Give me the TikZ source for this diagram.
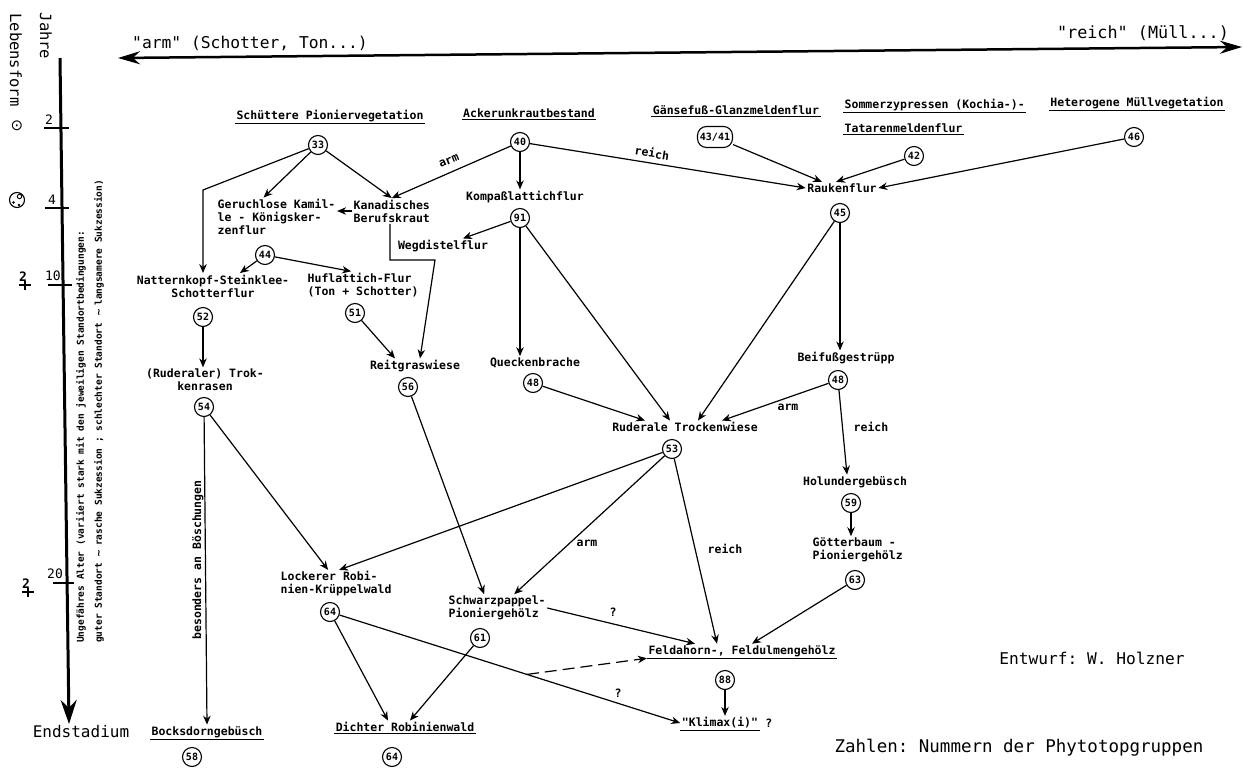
\documentclass[tikz,border=0pt]{standalone}
\usepackage{fontspec}
\setmainfont{DejaVu Sans Mono}
\setmonofont{DejaVu Sans Mono}
\renewcommand{\familydefault}{\ttdefault}
\newfontfamily\symfont{DejaVu Sans}
\usetikzlibrary{arrows.meta}
\newcommand{\tf}{\ttfamily\bfseries\fontsize{11.5}{13}\selectfont}
\newcommand{\nf}{\ttfamily\bfseries\fontsize{10}{11}\selectfont}
\newcommand{\jupiter}[2]{%
  \node[font=\ttfamily\bfseries\fontsize{13}{14}\selectfont, inner sep=0pt] (#2) at #1 {2};
  \draw[line width=1.3pt] ([xshift=2pt,yshift=1pt]#2.south) -- ([xshift=2pt,yshift=-8pt]#2.south);
  \draw[line width=1.3pt] ([xshift=-4pt,yshift=-3pt]#2.south) -- ([xshift=8pt,yshift=-3pt]#2.south);
}
\begin{document}
\begin{tikzpicture}[x=1pt,y=-1pt,
  lbl/.style={font=\tf, inner sep=1.5pt, align=center},
  lbll/.style={font=\tf, inner sep=1.5pt, align=left},
  elbl/.style={font=\tf, inner sep=1pt},
  num/.style={circle, draw, line width=1.1pt, inner sep=0pt, minimum size=19pt, font=\nf},
  arr/.style={line width=1.2pt, -{Stealth[length=9pt,width=7.5pt]}},
  ulline/.style={line width=1.1pt},
  tick/.style={line width=1.4pt},
]
\useasboundingbox (0,0) rectangle (1243,769);
\fill[white] (0,0) rectangle (1243,769);

% ---------- axes ----------
\coordinate (tl) at (118,58);
\coordinate (tr) at (1242,47);
\draw[line width=2.5pt, {Stealth[length=22pt,width=13pt]}-{Stealth[length=22pt,width=13pt]}] (tl) -- (tr);
\node[font=\ttfamily\fontsize{16.3}{18}\selectfont, inner sep=0pt] (armtop) at (250,43) {"arm" (Schotter, Ton...)};
\node[font=\ttfamily\fontsize{16.8}{18}\selectfont, inner sep=0pt] (reichtop) at (1143,33) {"reich" (Müll...)};

\coordinate (at) at (60,58);
\coordinate (ab) at (69,724);
\draw[line width=3pt, -{Stealth[length=24pt,width=16pt]}] (at) -- (ab);
\draw[tick] (44,128) -- (69,128);
\draw[tick] (45,208) -- (69,208);
\draw[tick] (48,285) -- (72,285);
\draw[tick] (53,583) -- (74,583);
\node[font=\ttfamily\fontsize{13}{14}\selectfont, inner sep=0pt] (t2) at (49,120) {2};
\node[font=\ttfamily\fontsize{13}{14}\selectfont, inner sep=0pt] (t4) at (52,200) {4};
\node[font=\ttfamily\fontsize{13}{14}\selectfont, inner sep=0pt] (t10) at (53,276) {10};
\node[font=\ttfamily\fontsize{13}{14}\selectfont, inner sep=0pt] (t20) at (55,574) {20};

\node[font=\ttfamily\fontsize{15.5}{17}\selectfont, rotate=-90, inner sep=0pt] (jahre) at (46,36) {Jahre};
\node[font=\ttfamily\fontsize{15.5}{17}\selectfont, rotate=-90, inner sep=0pt] (lebens) at (16,60) {Lebensform};
\node[font=\symfont\fontsize{15}{16}\selectfont, inner sep=0pt] (sym1) at (17,126) {⊙};
\draw[line width=1.1pt] (17,200) circle (7.5);
\draw[line width=0.9pt] (19.5,196.5) circle (2.2);
\fill (13.5,202.5) circle (1.4);
\fill (19,205) circle (1.4);
\jupiter{(23,277)}{sym3}
\jupiter{(26,584)}{sym4}

\node[font=\ttfamily\bfseries\fontsize{9.5}{11}\selectfont, rotate=90, anchor=west, inner sep=0pt] (col1) at (81,643) {Ungefähres Alter (variiert stark mit den jeweiligen Standortbedingungen:};
\node[font=\ttfamily\bfseries\fontsize{9.5}{11}\selectfont, rotate=90, anchor=west, inner sep=0pt] (col2) at (99,643) {guter Standort \symfont∼\ \ttfamily rasche Sukzession ; schlechter Standort \symfont∼\ \ttfamily langsamere Sukzession)};

\node[font=\ttfamily\fontsize{16}{18}\selectfont, inner sep=0pt] (endst) at (81,732) {Endstadium};

% ---------- headers ----------
\node[lbl] (schuett) at (330,116) {Schüttere Pioniervegetation};
\node[lbl] (acker) at (529,113) {Ackerunkrautbestand};
\node[lbl] (gaense) at (736,110) {Gänsefuß-Glanzmeldenflur};
\node[lbl, anchor=west] (sommer) at (843,105) {Sommerzypressen (Kochia-)-};
\node[lbl, anchor=west] (tatar) at (843,128) {Tatarenmeldenflur};
\node[lbl] (hetero) at (1137,103) {Heterogene Müllvegetation};
\foreach \n in {schuett,acker,gaense,sommer,tatar,hetero}
  \draw[ulline] (\n.south west) -- (\n.south east);

% ---------- numbered nodes ----------
\node[num] (n33) at (318,145) {33};
\node[num] (n40) at (520,142) {40};
\node[num, rectangle, rounded corners=9pt, inner sep=2pt, minimum width=35pt, minimum height=21pt] (n4341) at (715,137) {43/41};
\node[num] (n42) at (914,156) {42};
\node[num] (n46) at (1134,137) {46};
\node[num] (n91) at (520,218) {91};
\node[num] (n45) at (840,213) {45};
\node[num] (n44) at (265,255) {44};
\node[num] (n52) at (203,317) {52};
\node[num] (n51) at (355,313) {51};
\node[num] (n54) at (204,407) {54};
\node[num] (n56) at (408,387) {56};
\node[num] (n48a) at (533,383) {48};
\node[num] (n48b) at (838,380) {48};
\node[num] (n53) at (672,449) {53};
\node[num] (n59) at (851,503) {59};
\node[num] (n63) at (855,580) {63};
\node[num] (n64a) at (330,612) {64};
\node[num] (n61) at (480,638) {61};
\node[num] (n88) at (725,680) {88};
\node[num] (n58) at (192,757) {58};
\node[num] (n64b) at (392,757) {64};

% ---------- text nodes ----------
\node[lbll, anchor=west] (kan) at (352,211) {Kanadisches\\Berufskraut};
\node[lbll, anchor=west] (geruch) at (216,217) {Geruchlose Kamil-\\le - Königsker-\\zenflur};
\node[lbl] (kompass) at (525,197) {Kompaßlattichflur};
\node[lbl] (rauken) at (842,188) {Raukenflur};
\node[lbl] (wegd) at (443,246) {Wegdistelflur};
\node[lbl] (natter) at (213,286) {Natternkopf-Steinklee-\\Schotterflur};
\node[lbll, anchor=west] (huf) at (306,285) {Huflattich-Flur\\(Ton + Schotter)};
\node[lbl] (ruderaler) at (205,380) {(Ruderaler) Trok-\\kenrasen};
\node[lbl] (reitgras) at (415,366) {Reitgraswiese};
\node[lbl] (queck) at (535,363) {Queckenbrache};
\node[lbl] (beifuss) at (846,358) {Beifußgestrüpp};
\node[lbl] (rudtw) at (685,427) {Ruderale Trockenwiese};
\node[lbl] (holunder) at (855,482) {Holundergebüsch};
\node[lbll, anchor=west] (goetter) at (811,550) {Götterbaum -\\Pioniergehölz};
\node[lbll, anchor=west] (locker) at (279,584) {Lockerer Robi-\\nien-Krüppelwald};
\node[lbll, anchor=west] (schwarz) at (447,608) {Schwarzpappel-\\Pioniergehölz};
\node[lbl] (feld) at (742,651) {Feldahorn-, Feldulmengehölz};
\node[lbl] (klimax) at (720,723) {"Klimax(i)"};
\node[lbl, anchor=west] (klq) at ([xshift=4pt]klimax.east) {?};
\node[lbl] (bocks) at (207,732) {Bocksdorngebüsch};
\node[lbl] (dichter) at (405,727) {Dichter Robinienwald};
\foreach \n in {feld,klimax,bocks,dichter}
  \draw[ulline] (\n.south west) -- (\n.south east);
\node[lbl, rotate=90] (boesch) at (198,560) {besonders an Böschungen};

\node[font=\ttfamily\fontsize{16.2}{18}\selectfont, inner sep=0pt] (entwurf) at (1092,658) {Entwurf: W. Holzner};
\node[font=\ttfamily\fontsize{17.5}{19}\selectfont, inner sep=0pt] (zahlen) at (1019,748) {Zahlen: Nummern der Phytotopgruppen};

% ---------- edge labels ----------
\node[elbl, rotate=22] (larm1) at (449,161) {arm};
\node[elbl, rotate=-9] (lreich1) at (652,153) {reich};
\node[elbl] (larm2) at (788,407) {arm};
\node[elbl] (lreich2) at (871,427) {reich};
\node[elbl] (larm3) at (587,543) {arm};
\node[elbl] (lreich3) at (725,549) {reich};
\node[elbl] (q1) at (613,612) {?};
\node[elbl] (q2) at (618,693) {?};

% ---------- connectors ----------
\coordinate (c33) at (203,190);
\coordinate (kb1) at (390,260);
\coordinate (kb2) at (435,260);

\draw[arr] (n33) -- (kan.north);
\draw[arr] (n40) -- (kan.north);
\draw[arr] (n33) -- ([xshift=-13pt]geruch.north);
\draw[arr] (n33) -- (c33) -- (natter.north -| c33);
\draw[arr] (n40) -- (n40 |- kompass.north);
\draw[arr] (n40) -- (rauken.west);
\draw[arr] (n4341) -- ([xshift=-20pt]rauken.north);
\draw[arr] (n42) -- ([xshift=-6pt]rauken.north);
\draw[arr] (n46) -- (rauken.east);
\draw[arr] (kan.west) -- (kan.west -| geruch.east);
\draw[arr] (kan.south -| kb1) -- (kb1) -- (kb2) -- ([xshift=5pt]reitgras.north);
\draw[arr] (n91) -- ([xshift=20pt]wegd.north);
\draw[arr] (n91) -- (n91 |- queck.north);
\draw[arr] (n91) -- ([xshift=-15pt]rudtw.north);
\draw[arr] (n48a) -- ([xshift=-40pt]rudtw.north);
\draw[arr] (n45) -- ([xshift=13pt]rudtw.north);
\draw[arr] (n45) -- (n45 |- beifuss.north);
\draw[arr] (n48b) -- ([xshift=37pt]rudtw.north);
\draw[arr] (n48b) -- ([xshift=-8pt]holunder.north);
\draw[arr] (n59) -- (n59 |- goetter.north);
\draw[arr] (n44) -- ([xshift=27pt]natter.north);
\draw[arr] (n44) -- ([xshift=-12pt]huf.north);
\draw[arr] (n52) -- (n52 |- ruderaler.north);
\draw[arr] (n51) -- ([xshift=-20pt]reitgras.north);
\draw[arr] (n54) -- (bocks.north);
\draw[arr] (n54) -- ([xshift=-8pt]locker.north);
\draw[arr] (n53) -- ([xshift=3pt]locker.north);
\draw[arr] (n53) -- ([xshift=17pt]schwarz.north);
\draw[arr] (n56) -- ([xshift=-13pt]schwarz.north);
\draw[arr] (n53) -- ([xshift=-25pt]feld.north);
\draw[arr] (n63) -- ([xshift=10pt]feld.north);
\draw[arr] (schwarz.east) -- ([xshift=-47pt]feld.north);
\draw[arr] (n64a) -- ([xshift=-17pt]dichter.north);
\draw[arr] (n61) -- ([xshift=5pt]dichter.north);
\draw[arr] (n64a) -- (klimax.west);
\path (n64a) -- (klimax.west) coordinate[pos=0.55] (split);
\draw[arr, dash pattern=on 12pt off 6pt] (split) -- (feld.south west);
\draw[arr] (n88) -- (n88 |- klimax.north);
\end{tikzpicture}
\end{document}
